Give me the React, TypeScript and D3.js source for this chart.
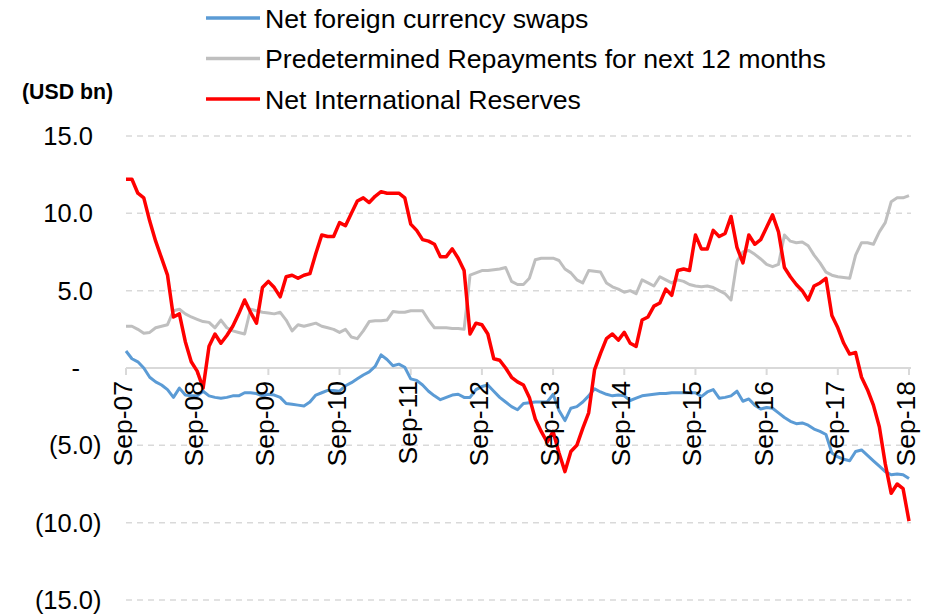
import React from "react";
import * as d3 from "d3";

// ---- Data (monthly, Sep-07 .. Sep-18), USD bn ----
const tickLabels = ["Sep-07","Sep-08","Sep-09","Sep-10","Sep-11","Sep-12","Sep-13","Sep-14","Sep-15","Sep-16","Sep-17","Sep-18"];
const yTicks = [15, 10, 5, 0, -5, -10, -15];

const seriesNames = ["Net foreign currency swaps", "Predetermined Repayments for next 12 months", "Net International Reserves"];
const seriesColors = ["#5B9BD5", "#BFBFBF", "#FF0000"];
const seriesWidths = [3, 3, 3.5];

const netSwaps = [
  1.1, 0.6, 0.4, 0.0, -0.6, -0.9, -1.1, -1.4, -1.9, -1.3, -1.75, -1.8,
  -1.8, -1.5, -1.8, -1.9, -1.95, -1.9, -1.8, -1.8, -1.6, -1.6, -1.65, -1.8,
  -1.7, -1.75, -1.9, -2.3, -2.35, -2.4, -2.45, -2.2, -1.75, -1.6, -1.45, -1.45,
  -1.5, -1.15, -0.95, -0.7, -0.45, -0.25, 0.1, 0.85, 0.55, 0.15, 0.25, 0.05,
  -0.7, -0.8, -1.1, -1.5, -1.8, -2.05, -1.9, -1.75, -1.7, -1.9, -1.9, -1.4,
  -1.2, -1.1, -1.5, -1.9, -2.2, -2.5, -2.7, -2.3, -2.25, -2.2, -2.2, -2.2,
  -1.7, -2.75, -3.4, -2.6, -2.5, -2.2, -1.8, -1.35, -1.55, -1.7, -1.8, -1.75,
  -1.8, -2.1, -1.95, -1.8, -1.75, -1.7, -1.65, -1.65, -1.6, -1.6, -1.6, -1.6,
  -1.6, -1.85, -1.55, -1.4, -1.95, -1.9, -1.8, -1.5, -2.15, -2.0, -2.4, -2.65,
  -2.55, -2.6, -2.9, -3.2, -3.45, -3.6, -3.55, -3.7, -3.95, -4.1, -4.3, -5.5,
  -5.75, -5.9, -6.0, -5.4, -5.3, -5.65, -6.0, -6.35, -6.7, -6.9, -6.85, -6.9,
  -7.15,
];

const repayments = [
  2.7, 2.7, 2.5, 2.25, 2.3, 2.6, 2.7, 2.8, 3.7, 3.8, 3.5, 3.3,
  3.15, 3.0, 2.95, 2.6, 3.1, 2.6, 2.4, 2.3, 2.2, 3.8, 3.7, 3.6,
  3.55, 3.5, 3.6, 3.1, 2.4, 2.8, 2.7, 2.8, 2.9, 2.7, 2.6, 2.5,
  2.3, 2.5, 2.0, 1.9, 2.4, 3.0, 3.05, 3.05, 3.1, 3.65, 3.6, 3.6,
  3.7, 3.7, 3.7, 3.1, 2.6, 2.6, 2.6, 2.55, 2.55, 2.5, 6.0, 6.15,
  6.3, 6.3, 6.35, 6.4, 6.5, 5.6, 5.4, 5.4, 5.8, 7.0, 7.1, 7.1,
  7.1, 6.95, 6.4, 6.15, 5.7, 5.5, 6.3, 6.25, 6.2, 5.5, 5.25, 5.1,
  4.9, 5.0, 4.8, 5.7, 5.5, 5.3, 5.9, 5.7, 5.5, 5.7, 5.6, 5.4,
  5.3, 5.25, 5.3, 5.2, 5.0, 4.8, 4.4, 6.9, 7.5, 7.6, 7.35, 7.05,
  6.7, 6.55, 6.7, 8.6, 8.2, 8.1, 8.15, 7.9, 7.3, 6.8, 6.2, 6.0,
  5.9, 5.85, 5.8, 7.3, 8.1, 8.1, 8.0, 8.8, 9.4, 10.75, 11.0, 11.0,
  11.15,
];

const reserves = [
  12.2, 12.2, 11.3, 11.0, 9.5, 8.2, 7.1, 6.0, 3.3, 3.5, 1.7, 0.4,
  -0.2, -1.3, 1.4, 2.2, 1.6, 2.1, 2.7, 3.5, 4.4, 3.6, 2.9, 5.2,
  5.6, 5.2, 4.6, 5.9, 6.0, 5.8, 6.0, 6.1, 7.4, 8.6, 8.5, 8.5,
  9.4, 9.2, 10.0, 10.8, 11.0, 10.7, 11.1, 11.4, 11.3, 11.3, 11.3, 11.0,
  9.3, 8.9, 8.3, 8.2, 8.0, 7.2, 7.2, 7.7, 7.1, 6.3, 2.2, 2.9,
  2.8, 2.2, 0.6, 0.5, 0.0, -0.6, -0.9, -1.1, -1.9, -3.3, -4.1, -4.8,
  -4.1, -5.5, -6.7, -5.4, -5.0, -3.9, -2.9, -0.1, 0.95, 1.9, 2.2, 1.8,
  2.3, 1.6, 1.4, 3.1, 3.3, 4.0, 4.2, 5.1, 4.7, 6.3, 6.4, 6.3,
  8.6, 7.7, 7.7, 8.9, 8.5, 8.7, 9.8, 7.8, 6.8, 8.6, 8.0, 8.3,
  9.1, 9.9, 8.8, 6.5, 5.9, 5.4, 5.0, 4.4, 5.3, 5.5, 5.8, 3.4,
  2.6, 1.6, 0.9, 1.0, -0.6, -1.4, -2.4, -3.8, -6.2, -8.1, -7.5, -7.8,
  -9.9,
];

const allSeries = [netSwaps, repayments, reserves];

const FONT = "'Liberation Sans', Arial, sans-serif";

function fmtY(v: number): string {
  if (v === 0) return "-";
  const s = Math.abs(v).toFixed(1);
  return v < 0 ? `(${s})` : s;
}

export default function App() {
  const W = 937, H = 614;
  const nPts = reserves.length;
  const x = d3.scaleLinear().domain([0, nPts - 1]).range([126, 909]);
  const y = d3.scaleLinear().domain([-15, 15]).range([600, 136]);
  const line = d3.line<number>().x((_, i) => x(i)).y((d) => y(d));

  const gridX0 = x(0);
  const gridX1 = x(nPts - 1) + 2;
  const labelRight = 101.5;
  const parenW = 8.5;

  return (
    <svg width={W} height={H} style={{ position: "absolute", left: 0, top: 0, background: "#fff" }}>
      {/* gridlines */}
      {yTicks.filter((t) => t !== 0).map((t) => (
        <line key={"g" + t} x1={gridX0} x2={gridX1} y1={y(t)} y2={y(t)} stroke="#D9D9D9" strokeWidth={1.5} strokeDasharray="6,5" />
      ))}
      {/* y labels */}
      {yTicks.map((t) => {
        const xr = t > 0 ? labelRight - parenW : t === 0 ? 80 : labelRight;
        return (
          <text key={"yl" + t} x={xr} y={y(t)} dy="0.35em" textAnchor="end" fontFamily={FONT} fontSize={25.5} fill="#000">
            {fmtY(t)}
          </text>
        );
      })}
      {/* zero axis line */}
      <line x1={gridX0} x2={gridX1} y1={y(0)} y2={y(0)} stroke="#D9D9D9" strokeWidth={2} />
      {tickLabels.map((lab, k) => (
        <line key={"tk" + k} x1={x(k * 12)} x2={x(k * 12)} y1={y(0)} y2={y(0) + 7} stroke="#D9D9D9" strokeWidth={2} />
      ))}
      {/* series */}
      {allSeries.map((s, si) => (
        <path key={"s" + si} d={line(s) || ""} fill="none" stroke={seriesColors[si]} strokeWidth={seriesWidths[si]} strokeLinejoin="round" />
      ))}
      {/* x labels */}
      {tickLabels.map((lab, k) => (
        <text key={"xl" + k} transform={`translate(${x(k * 12)},${y(0) + 13}) rotate(-90)`} dy="6" textAnchor="end" fontFamily={FONT} fontSize={26.5} fill="#000">
          {lab}
        </text>
      ))}
      {/* unit label */}
      <text x={22} y={92} dy="0.35em" fontFamily={FONT} fontSize={21.3} fontWeight="bold" fill="#000">(USD bn)</text>
      {/* legend */}
      {seriesNames.map((name, i) => {
        const ly = 18 + i * 40.5;
        return (
          <g key={"lg" + i}>
            <line x1={206} x2={260} y1={ly} y2={ly} stroke={seriesColors[i]} strokeWidth={3.5} />
            <text x={265} y={ly} dy="0.36em" fontFamily={FONT} fontSize={26.7} fill="#000">{name}</text>
          </g>
        );
      })}
    </svg>
  );
}
